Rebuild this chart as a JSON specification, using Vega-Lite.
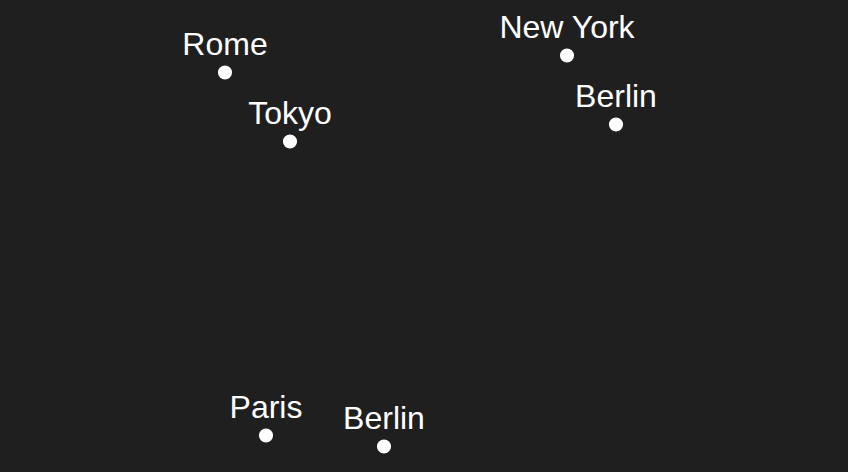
{
  "$schema": "https://vega.github.io/schema/vega-lite/v6.json",
  "width": 848,
  "height": 472,
  "autosize": {"type": "fit", "contains": "padding"},
  "padding": 0,
  "background": "#1f1f20",
  "config": {"view": {"stroke": null}},
  "data": {"values": [
    {"city": "Rome", "x": 225, "y": 72.5},
    {"city": "Tokyo", "x": 290, "y": 141.5},
    {"city": "New York", "x": 567, "y": 55.5},
    {"city": "Berlin", "x": 616, "y": 124.5},
    {"city": "Paris", "x": 266, "y": 435.5},
    {"city": "Berlin", "x": 384, "y": 446.5}
  ]},
  "encoding": {
    "x": {"field": "x", "type": "quantitative", "scale": {"domain": [0, 848], "nice": false, "zero": false}, "axis": null},
    "y": {"field": "y", "type": "quantitative", "scale": {"domain": [0, 472], "reverse": true, "nice": false, "zero": false}, "axis": null}
  },
  "layer": [
    {"mark": {"type": "circle", "size": 200, "color": "#ffffff", "opacity": 1}},
    {"mark": {"type": "text", "color": "#ffffff", "font": "Liberation Sans", "fontSize": 32, "baseline": "alphabetic", "dy": -18, "align": "center"},
     "encoding": {"text": {"field": "city"}}}
  ]
}
